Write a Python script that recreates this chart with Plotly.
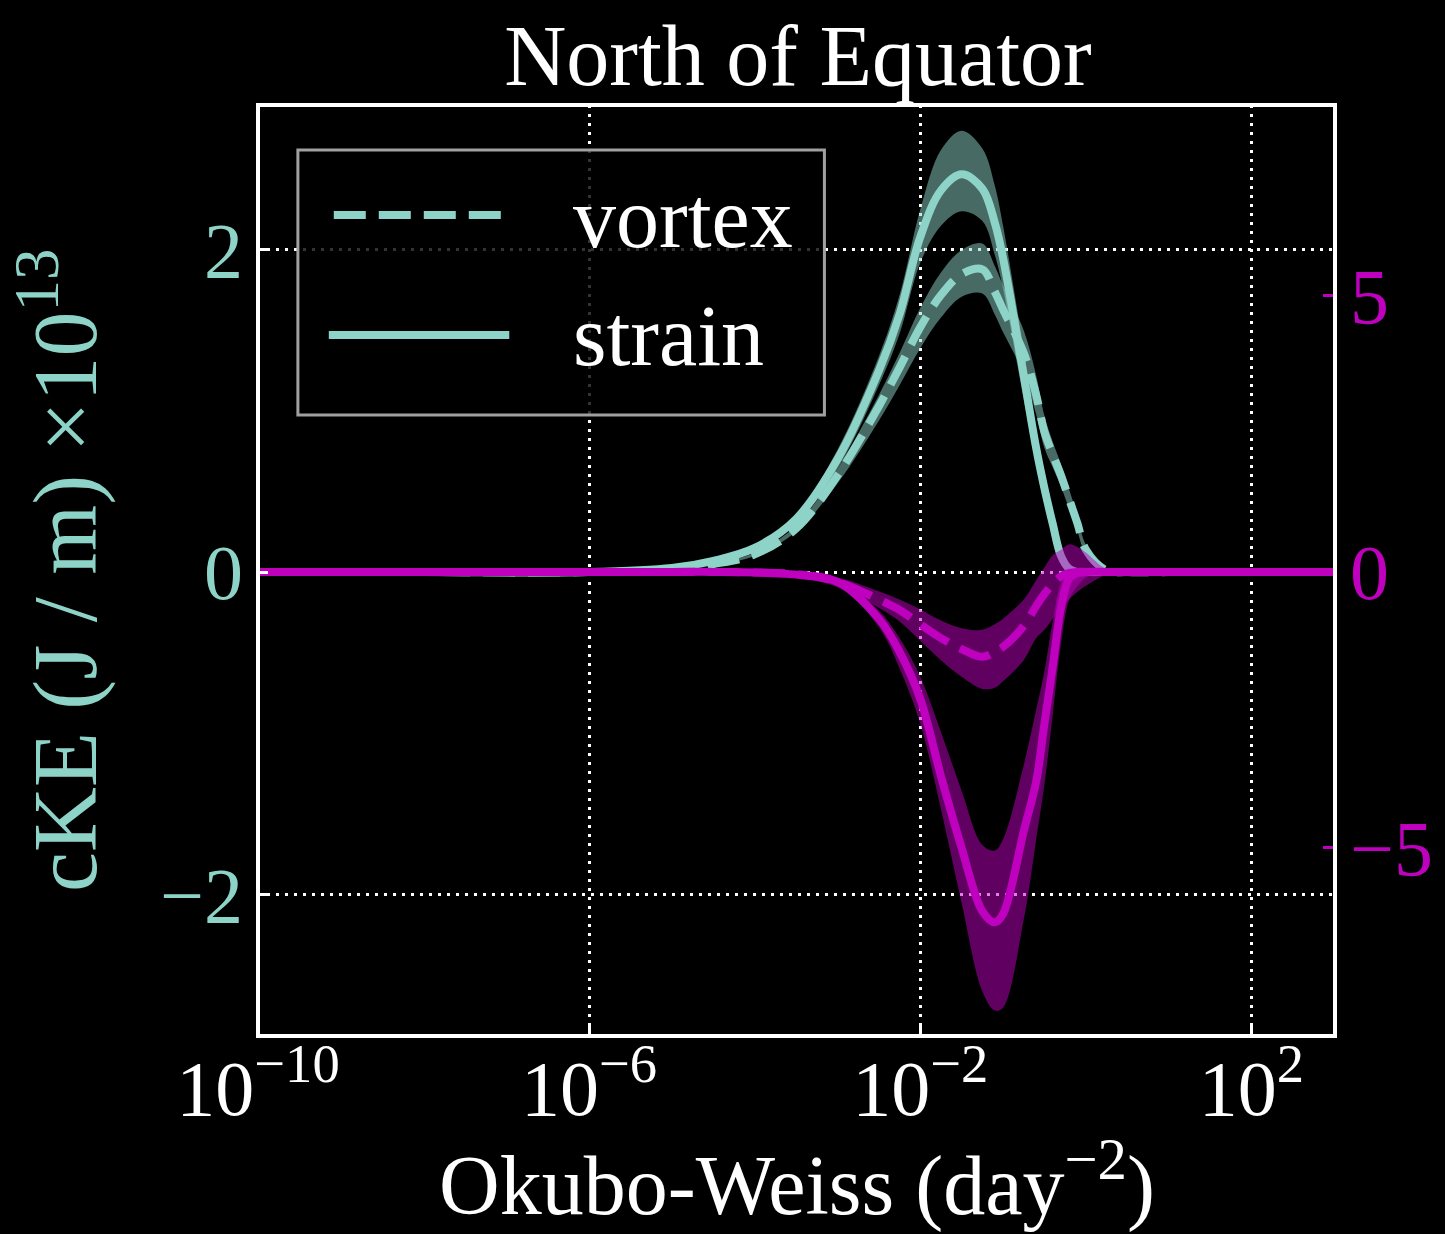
import plotly.graph_objects as go

# ---- data ----
ow_exp = [-10, -8, -6, -5, -4.5, -4, -3.5, -3, -2.5, -2.25, -2, -1.75, -1.5, -1.25, -1.1,
          -1, -0.75, -0.6, -0.5, -0.4, -0.3, -0.2, -0.1, 0, 0.25, 0.5, 1, 2, 3.01]
ow = [10 ** e for e in ow_exp]

teal_strain = [0, 0, 0, 0.025, 0.07, 0.15, 0.33, 0.70, 1.25, 1.60, 2.08, 2.37, 2.47, 2.38, 2.17,
               1.95, 1.22, 0.77, 0.52, 0.30, 0.10, 0.02, 0, 0, 0, 0, 0, 0, 0]
teal_strain_hi = [0, 0, 0, 0.03, 0.08, 0.165, 0.36, 0.76, 1.34, 1.72, 2.25, 2.62, 2.74, 2.63, 2.40,
                  2.15, 1.38, 0.88, 0.60, 0.36, 0.13, 0.03, 0, 0, 0, 0, 0, 0, 0]
teal_strain_lo = [0, 0, 0, 0.02, 0.06, 0.135, 0.30, 0.64, 1.16, 1.48, 1.92, 2.15, 2.24, 2.18, 1.97,
                  1.76, 1.07, 0.67, 0.45, 0.25, 0.08, 0.01, 0, 0, 0, 0, 0, 0, 0]

teal_vortex = [0, 0, 0, 0.015, 0.05, 0.11, 0.27, 0.60, 1.03, 1.27, 1.52, 1.72, 1.85, 1.88, 1.74,
               1.63, 1.36, 1.10, 0.87, 0.73, 0.60, 0.45, 0.30, 0.14, 0.01, 0, 0, 0, 0]
teal_vortex_hi = [0, 0, 0, 0.017, 0.055, 0.12, 0.29, 0.64, 1.10, 1.36, 1.64, 1.86, 2.00, 2.04, 1.90,
                  1.78, 1.50, 1.22, 0.97, 0.81, 0.67, 0.51, 0.35, 0.17, 0.02, 0, 0, 0, 0]
teal_vortex_lo = [0, 0, 0, 0.013, 0.045, 0.10, 0.25, 0.55, 0.94, 1.16, 1.39, 1.58, 1.71, 1.73, 1.60,
                  1.49, 1.23, 0.98, 0.77, 0.65, 0.53, 0.39, 0.25, 0.11, 0.005, 0, 0, 0, 0]

mag_strain = [0, 0, 0, 0, 0, -0.01, -0.05, -0.18, -0.85, -1.45, -2.3, -3.7, -5.0, -6.15, -6.35,
              -6.2, -4.7, -3.8, -2.75, -1.72, -0.65, -0.12, -0.02, 0, 0, 0, 0, 0, 0]
mag_strain_hi = [0, 0, 0, 0, 0, -0.01, -0.04, -0.15, -0.7, -1.2, -1.9, -2.9, -3.97, -4.95, -5.05,
                 -4.85, -3.5, -2.5, -1.8, -0.9, -0.2, 0, 0, 0, 0, 0, 0, 0, 0]
mag_strain_lo = [0, 0, 0, 0, 0, -0.012, -0.06, -0.22, -1.0, -1.75, -2.75, -4.3, -6.0, -7.6, -7.95,
                 -7.9, -6.3, -4.85, -3.85, -2.6, -1.3, -0.5, -0.25, -0.1, 0, 0, 0, 0, 0]

mag_vortex = [0, 0, 0, 0, 0, -0.01, -0.04, -0.18, -0.5, -0.69, -0.95, -1.2, -1.4, -1.54, -1.45,
              -1.36, -0.98, -0.62, -0.4, -0.22, -0.08, -0.02, 0, 0, 0, 0, 0, 0, 0]
mag_vortex_hi = [0, 0, 0, 0, 0, 0, -0.02, -0.1, -0.35, -0.5, -0.68, -0.88, -1.02, -1.05, -0.95,
                 -0.85, -0.5, -0.15, 0.08, 0.3, 0.4, 0.5, 0.45, 0.35, 0.05, 0, 0, 0, 0]
mag_vortex_lo = [0, 0, 0, 0, 0, -0.02, -0.06, -0.28, -0.65, -0.9, -1.25, -1.6, -1.9, -2.12, -2.1,
                 -1.98, -1.6, -1.2, -1.05, -0.85, -0.66, -0.49, -0.36, -0.25, -0.05, 0, 0, 0, 0]

x_tickvals = [1e-10, 1e-6, 1e-2, 1e2]
x_ticktext = ["10<sup>−10</sup>", "10<sup>−6</sup>", "10<sup>−2</sup>", "10<sup>2</sup>"]
y_tickvals = [-2, 0, 2]
y_ticktext = ["−2", "0", "2"]
y2_tickvals = [-5, 0, 5]
y2_ticktext = ["−5", "0", "5"]

# ---- style ----
TEAL = "#8dd3c7"
TEAL_BAND = "rgba(141,211,199,0.5)"
MAG = "#bf00bf"
MAG_BAND = "rgba(191,0,191,0.5)"
FONT = "Liberation Serif"
LW = 8
DASH = "32px,13px"
SMOOTH = 1.0

fig = go.Figure()


def band(lo, hi, color, yaxis):
    fig.add_trace(go.Scatter(x=ow, y=lo, mode="lines", line=dict(width=0, shape="spline", smoothing=SMOOTH),
                             yaxis=yaxis, showlegend=False, hoverinfo="skip"))
    fig.add_trace(go.Scatter(x=ow, y=hi, mode="lines", line=dict(width=0, shape="spline", smoothing=SMOOTH),
                             fill="tonexty", fillcolor=color, yaxis=yaxis, showlegend=False,
                             hoverinfo="skip"))


def line(y, color, dash, yaxis):
    fig.add_trace(go.Scatter(x=ow, y=y, mode="lines",
                             line=dict(width=LW, color=color, dash=dash, shape="spline", smoothing=SMOOTH),
                             yaxis=yaxis, showlegend=False))


band(teal_vortex_lo, teal_vortex_hi, TEAL_BAND, "y")
line(teal_vortex, TEAL, DASH, "y")
band(teal_strain_lo, teal_strain_hi, TEAL_BAND, "y")
line(teal_strain, TEAL, "solid", "y")

band(mag_vortex_lo, mag_vortex_hi, MAG_BAND, "y2")
line(mag_vortex, MAG, DASH, "y2")
band(mag_strain_lo, mag_strain_hi, MAG_BAND, "y2")
line(mag_strain, MAG, "solid", "y2")

grid = dict(showgrid=True, gridcolor="white", gridwidth=3, griddash="3px,6px")

fig.update_layout(
    width=1445, height=1234,
    margin=dict(l=258, r=107, t=105, b=198),
    paper_bgcolor="black", plot_bgcolor="black",
    showlegend=False,
    font=dict(family=FONT, color="white"),
    title=dict(text="North of Equator", x=0.5522, xanchor="center", y=1 - 55 / 1234,
               yanchor="middle", yref="container", font=dict(size=86, color="white", family=FONT)),
    xaxis=dict(type="log", range=[-10, 3.01], tickvals=x_tickvals, ticktext=x_ticktext,
               ticks="inside", ticklen=10, tickwidth=3, tickcolor="white",
               tickfont=dict(size=78, color="white", family=FONT), zeroline=False,
               showline=False, ticklabelstandoff=0, **grid),
    yaxis=dict(range=[-2.88, 2.90], tickvals=y_tickvals, ticktext=y_ticktext,
               ticks="inside", ticklen=10, tickwidth=3, tickcolor="white",
               tickfont=dict(size=78, color=TEAL, family=FONT), zeroline=False,
               showline=False, ticklabelstandoff=14, **grid),
    yaxis2=dict(overlaying="y", side="right", range=[-8.41, 8.46], tickvals=y2_tickvals,
                ticktext=y2_ticktext, ticks="inside", ticklen=12, tickwidth=3, tickcolor=MAG,
                tickfont=dict(size=78, color=MAG, family=FONT), showgrid=False, zeroline=False,
                showline=False, ticklabelstandoff=14),
)

# axis titles
fig.add_annotation(text="Okubo-Weiss (day<sup>−2</sup>)", xref="paper", yref="paper",
                   x=0.5, y=(1036 - 1180) / 931, xanchor="center", yanchor="middle",
                   showarrow=False, font=dict(size=84, color="white", family=FONT))
fig.add_annotation(text="cKE (J / m) ×10<sup>13</sup>", xref="paper", yref="paper",
                   x=(58 - 258) / 1080, y=0.5, xanchor="center", yanchor="middle", textangle=-90,
                   showarrow=False, font=dict(size=90, color=TEAL, family=FONT))


def px_x(p):
    return (p - 258) / 1080


def px_y(p):
    return (1036 - p) / 931


# legend (drawn manually to match the matplotlib style)
fig.add_shape(type="rect", xref="paper", yref="paper", x0=px_x(298), x1=px_x(826),
              y0=px_y(415), y1=px_y(150), line=dict(color="#a0a0a0", width=3),
              fillcolor="rgba(0,0,0,0.8)", layer="above")
fig.add_shape(type="line", xref="paper", yref="paper", x0=px_x(334), x1=px_x(505),
              y0=px_y(215), y1=px_y(215), line=dict(color=TEAL, width=LW, dash=DASH), layer="above")
fig.add_shape(type="line", xref="paper", yref="paper", x0=px_x(329), x1=px_x(510),
              y0=px_y(335), y1=px_y(335), line=dict(color=TEAL, width=LW), layer="above")
fig.add_annotation(text="vortex", xref="paper", yref="paper", x=px_x(572), y=px_y(218),
                   xanchor="left", yanchor="middle", showarrow=False,
                   font=dict(size=86, color="white", family=FONT))
fig.add_annotation(text="strain", xref="paper", yref="paper", x=px_x(572), y=px_y(336),
                   xanchor="left", yanchor="middle", showarrow=False,
                   font=dict(size=86, color="white", family=FONT))

# spines
fig.add_shape(type="rect", xref="paper", yref="paper", x0=0, x1=1, y0=0, y1=1,
              line=dict(color="white", width=4), layer="above")

fig.write_html("out.html")
